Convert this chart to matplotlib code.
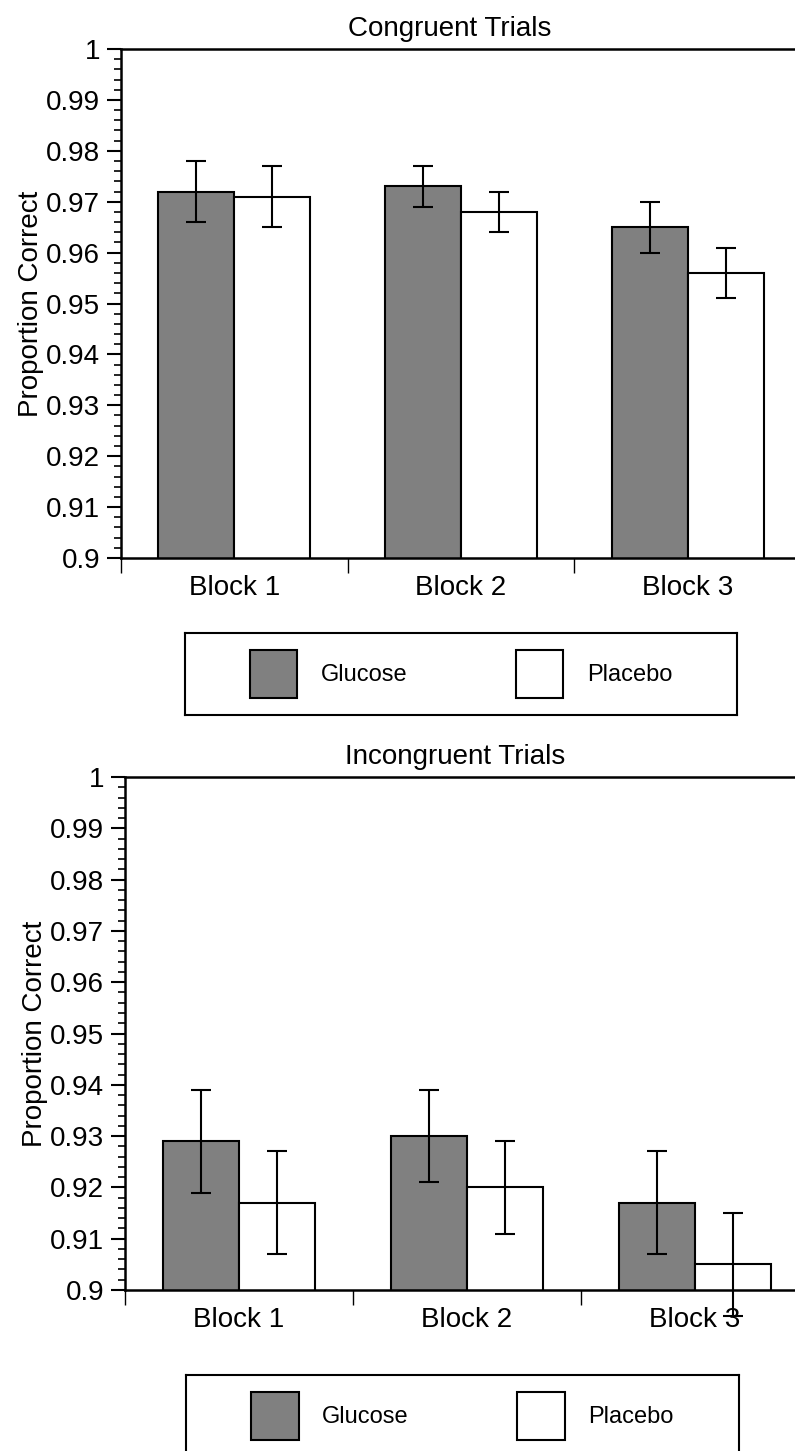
import matplotlib
matplotlib.use("Agg")
import matplotlib.pyplot as plt
from matplotlib.patches import Patch
from matplotlib.ticker import MultipleLocator, FuncFormatter

plt.rcParams['font.family'] = ['Liberation Sans', 'DejaVu Sans']

blocks = ['Block 1', 'Block 2', 'Block 3']
groups = ['Glucose', 'Placebo']
colors = ['#808080', 'white']

# congruent trials
cong_glucose = [0.972, 0.973, 0.965]
cong_glucose_err = [0.006, 0.004, 0.005]
cong_placebo = [0.971, 0.968, 0.956]
cong_placebo_err = [0.006, 0.004, 0.005]

# incongruent trials
incong_glucose = [0.929, 0.930, 0.917]
incong_glucose_err = [0.010, 0.009, 0.010]
incong_placebo = [0.917, 0.920, 0.905]
incong_placebo_err = [0.010, 0.009, 0.010]

W, H = 795, 1451
fig = plt.figure(figsize=(W / 100, H / 100), dpi=100)


def px(left, top, width, height):
    # pixel box -> figure fraction
    return [left / W, 1 - (top + height) / H, width / W, height / H]


def draw_panel(ax, title, title_x, g_vals, g_err, p_vals, p_err):
    x = range(len(blocks))
    bw = 0.335
    xg = [i - bw / 2 for i in x]
    xp = [i + bw / 2 for i in x]
    ax.bar(xg, g_vals, bw, color=colors[0], edgecolor='black', linewidth=1.5)
    ax.bar(xp, p_vals, bw, color=colors[1], edgecolor='black', linewidth=1.5)
    for xs, vals, err in [(xg, g_vals, g_err), (xp, p_vals, p_err)]:
        eb = ax.errorbar(xs, vals, yerr=err, fmt='none', ecolor='black',
                         elinewidth=1.5, capsize=7, capthick=1.5)
        for art in eb.get_children():
            art.set_clip_on(False)

    ax.set_xlim(-0.5, 2.5)
    ax.set_ylim(0.9, 1.0)
    ax.yaxis.set_major_locator(MultipleLocator(0.01))
    ax.yaxis.set_minor_locator(MultipleLocator(0.002))
    ax.yaxis.set_major_formatter(FuncFormatter(lambda v, p: f"{round(v, 3):g}"))
    ax.tick_params(axis='y', which='major', direction='out', length=10,
                   width=1.5, labelsize=20, pad=5)
    ax.tick_params(axis='y', which='minor', direction='out', length=5, width=1.2)

    ax.set_xticks(list(x))
    ax.set_xticklabels(blocks)
    ax.set_xticks([-0.5, 0.5, 1.5, 2.5], minor=True)
    ax.tick_params(axis='x', which='major', length=0, labelsize=20, pad=12)
    ax.tick_params(axis='x', which='minor', direction='out', length=11, width=1)

    for s in ['left', 'top', 'bottom']:
        ax.spines[s].set_linewidth(1.8)
    ax.spines['right'].set_visible(False)

    ax.set_ylabel('Proportion Correct', fontsize=20)
    ax.yaxis.set_label_coords(-0.113, 0.5)
    ax.set_title(title, fontsize=20, x=title_x, pad=9)


def draw_legend(lax):
    lax.set_xticks([])
    lax.set_yticks([])
    for s in lax.spines.values():
        s.set_linewidth(1.5)
    handles = [Patch(facecolor=c, edgecolor='black', linewidth=1.5) for c in colors]
    lax.legend(handles, groups, loc='center', ncol=2, frameon=False,
               fontsize=17, handlelength=2.0, handleheight=2.75,
               handletextpad=1.0, columnspacing=4.6, borderaxespad=0)


ax1 = fig.add_axes(px(121, 49, 680, 509))
draw_panel(ax1, 'Congruent Trials', 0.484,
           cong_glucose, cong_glucose_err, cong_placebo, cong_placebo_err)
lax1 = fig.add_axes(px(185, 633, 552, 82))
draw_legend(lax1)

ax2 = fig.add_axes(px(125, 777, 684, 513))
draw_panel(ax2, 'Incongruent Trials', 0.482,
           incong_glucose, incong_glucose_err, incong_placebo, incong_placebo_err)
lax2 = fig.add_axes(px(186, 1375, 553, 82))
draw_legend(lax2)

plt.savefig('out.png', dpi=100)
